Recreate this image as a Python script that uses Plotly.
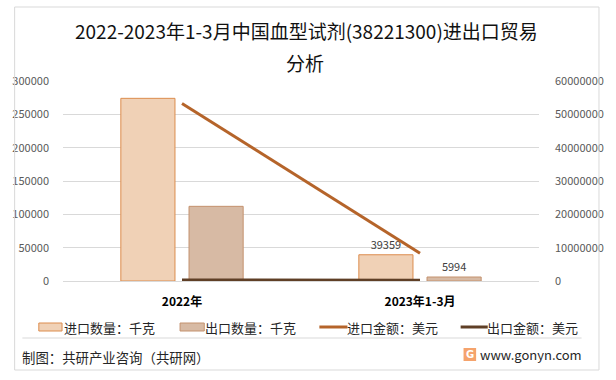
import plotly.graph_objects as go

categories = ["2022年", "2023年1-3月"]
import_qty = [274000, 39359]       # 进口数量：千克
export_qty = [112000, 5994]        # 出口数量：千克
import_amt = [53250000, 8300000]   # 进口金额：美元
export_amt = [300000, 250000]      # 出口金额：美元
left_ticks = [0, 50000, 100000, 150000, 200000, 250000, 300000]
right_ticks = [0, 10000000, 20000000, 30000000, 40000000, 50000000, 60000000]
import_labels = ["", "39359"]
export_labels = ["", "5994"]

FONT = "Noto Sans CJK SC"
W, H = 616, 380
L, R, T, B = 57, 549, 81, 281

def px(x):
    return (x - L) / (R - L)

def py(y):
    return (B - y) / (B - T)

C_IMP_FILL, C_IMP_LINE = "#F0D1B6", "#DC8D4E"
C_EXP_FILL, C_EXP_LINE = "#D7BAA4", "#C4926E"
C_IMP_AMT, C_EXP_AMT = "#B5642A", "#5F3F26"

fig = go.Figure()
fig.add_trace(go.Bar(
    x=categories, y=import_qty, name="进口数量：千克",
    marker=dict(color=C_IMP_FILL, line=dict(color=C_IMP_LINE, width=1)),
    text=import_labels, textposition="outside",
    textfont=dict(family=FONT, size=11, color="#404040"), cliponaxis=False,
))
fig.add_trace(go.Bar(
    x=categories, y=export_qty, name="出口数量：千克",
    marker=dict(color=C_EXP_FILL, line=dict(color=C_EXP_LINE, width=1)),
    text=export_labels, textposition="outside",
    textfont=dict(family=FONT, size=11, color="#404040"), cliponaxis=False,
))
fig.add_trace(go.Scatter(
    x=categories, y=import_amt, name="进口金额：美元", yaxis="y2",
    mode="lines", line=dict(color=C_IMP_AMT, width=3), cliponaxis=False,
))
fig.add_trace(go.Scatter(
    x=categories, y=export_amt, name="出口金额：美元", yaxis="y2",
    mode="lines", line=dict(color=C_EXP_AMT, width=3), cliponaxis=False,
))

shapes = []
annotations = []

# outer frame and separator
shapes.append(dict(type="rect", xref="paper", yref="paper",
                   x0=px(7), x1=px(611), y0=py(370), y1=py(7),
                   line=dict(color="#D9D9D9", width=1), fillcolor="rgba(0,0,0,0)"))
shapes.append(dict(type="line", xref="paper", yref="paper",
                   x0=px(15), x1=px(593), y0=py(338), y1=py(338),
                   line=dict(color="#D9D9D9", width=1)))

# title
annotations.append(dict(text="2022-2023年1-3月中国血型试剂(38221300)进出口贸易", xref="paper", yref="paper",
                        x=px(309), y=py(30), showarrow=False, xanchor="center", yanchor="middle",
                        font=dict(family=FONT, size=19, color="#111111")))
annotations.append(dict(text="分析", xref="paper", yref="paper",
                        x=px(307), y=py(62), showarrow=False, xanchor="center", yanchor="middle",
                        font=dict(family=FONT, size=19, color="#111111")))

# custom legend
leg_y = 327
legend_items = [
    ("rect", C_IMP_FILL, C_IMP_LINE, 32, 56, "进口数量：千克", 56),
    ("rect", C_EXP_FILL, C_EXP_LINE, 178, 203, "出口数量：千克", 202),
    ("line", C_IMP_AMT, None, 322, 351, "进口金额：美元", 348),
    ("line", C_EXP_AMT, None, 468, 496, "出口金额：美元", 493),
]
for kind, col, lcol, x0, x1, txt, tx in legend_items:
    if kind == "rect":
        shapes.append(dict(type="rect", xref="paper", yref="paper",
                           x0=px(x0), x1=px(x1), y0=py(leg_y + 4), y1=py(leg_y - 4),
                           fillcolor=col, line=dict(color=lcol, width=1)))
    else:
        shapes.append(dict(type="line", xref="paper", yref="paper",
                           x0=px(x0), x1=px(x1), y0=py(leg_y), y1=py(leg_y),
                           line=dict(color=col, width=3)))
    annotations.append(dict(text=txt, xref="paper", yref="paper", x=px(tx), y=py(leg_y),
                            showarrow=False, xanchor="left", yanchor="middle",
                            font=dict(family=FONT, size=13, color="#262626")))

# footer
annotations.append(dict(text="制图：共研产业咨询（共研网）", xref="paper", yref="paper",
                        x=px(13), y=py(357), showarrow=False, xanchor="left", yanchor="middle",
                        font=dict(family=FONT, size=13.4, color="#262626")))
shapes.append(dict(type="rect", xref="paper", yref="paper",
                   x0=px(471), x1=px(484), y0=py(361), y1=py(348),
                   fillcolor="#F5A36C", line=dict(width=0)))
annotations.append(dict(text="<b>G</b>", xref="paper", yref="paper",
                        x=px(477.5), y=py(354.5), showarrow=False, xanchor="center", yanchor="middle",
                        font=dict(family="DejaVu Sans", size=10, color="#FFFFFF")))
annotations.append(dict(text="www.gonyn.com", xref="paper", yref="paper",
                        x=px(486), y=py(354), showarrow=False, xanchor="left", yanchor="middle",
                        font=dict(family=FONT, size=13, color="#262626")))

fig.update_layout(
    width=W, height=H,
    margin=dict(l=L, r=W - R, t=T, b=H - B, pad=0),
    paper_bgcolor="white", plot_bgcolor="white",
    showlegend=False,
    barmode="group", bargap=0.427, bargroupgap=0.206,
    font=dict(family=FONT, size=11, color="#595959"),
    xaxis=dict(
        showgrid=False, showline=True, linecolor="#D9D9D9", linewidth=1, zeroline=False,
        tickfont=dict(family=FONT, size=12, color="#000000", weight="bold"),
        ticks="", ticklabelstandoff=10,
    ),
    yaxis=dict(
        range=[0, 300000], tickvals=left_ticks, ticktext=[str(v) for v in left_ticks],
        showgrid=True, gridcolor="#D9D9D9", gridwidth=1, zeroline=False, showline=False,
        ticks="", ticklabelstandoff=13, tickfont=dict(family=FONT, size=11, color="#595959"),
    ),
    yaxis2=dict(
        range=[0, 60000000], tickvals=right_ticks, ticktext=[str(v) for v in right_ticks],
        overlaying="y", side="right", showgrid=False, zeroline=False, showline=False,
        ticks="", ticklabelstandoff=15, tickfont=dict(family=FONT, size=11, color="#595959"),
    ),
    shapes=shapes, annotations=annotations,
)

fig.write_html("out.html", config={"displayModeBar": False},
               post_script="document.body.style.margin='0';document.body.style.overflow='hidden';")
